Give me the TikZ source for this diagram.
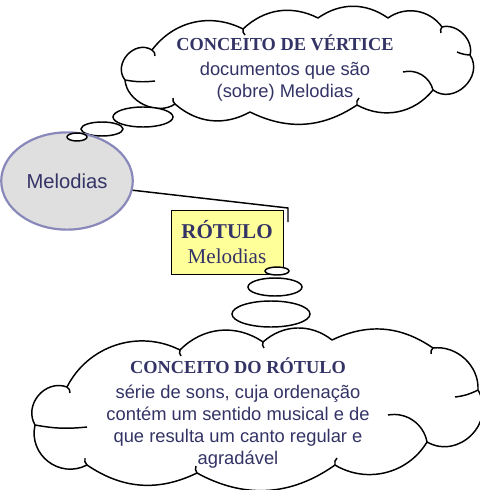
\documentclass[tikz,border=0pt]{standalone}
\usepackage{fontspec}
\setmainfont{Liberation Serif}
\setsansfont{Liberation Sans}
\usetikzlibrary{shapes.geometric}
\definecolor{txtblue}{RGB}{51,51,102}
\definecolor{rimblue}{RGB}{136,136,187}
\definecolor{notefill}{RGB}{255,255,153}

\begin{document}
\begin{tikzpicture}[x=0.545pt,y=-0.545pt,
	nuvem/.style={draw,thick,fill=white,line join=round},
	texto/.style={align=center,text=txtblue,font=\sffamily\fontsize{10}{12}\selectfont},
	bolha/.style={draw,thick,fill=white}]
				\useasboundingbox (0,0) rectangle (480,490);
				% nuvem do vertice
				\draw[nuvem] (125,80) to[bend left=80,looseness=1.3] (152,50) to[bend left=40] (243,29)
					to[bend left=35] (318,18) to[bend left=35] (388,18) to[bend left=45] (442,27)
					to[bend left=60] (470,55) to[bend left=80,looseness=1.3] (433,90) to[bend left=40] (357,105)
					to[bend left=30] (250,112) to[bend left=35] (175,104) to[bend left=60] (125,80) -- cycle;
				\draw[thick] (125,80) to[bend right=8] (155,81);
				\draw[thick] (403,72) to[bend left=45] (433,90);
				\draw[thick] (457,52) to[bend right=10] (470,55);
				\draw[thick] (152,50) to[bend left=30] (155,56);
				\draw[thick] (243,29) to[bend right=30] (245,35);
				\draw[thick] (442,27) to[bend right=30] (441,33);
				\draw[thick] (357,105) to[bend left=30] (359,98);
				\draw[thick] (175,104) to[bend left=30] (173,98);
				\node[texto] (vtexto) at (285,68) {{\rmfamily\bfseries CONCEITO DE VÉRTICE}\\[2pt]documentos que são\\(sobre) Melodias};
				\draw[bolha] (143,117) ellipse (30 and 10);
				\draw[bolha] (102,129) ellipse (21 and 7);
				% vertice
				\node[ellipse,draw=rimblue,line width=1.2pt,fill=gray!25,minimum width=61pt,minimum height=53pt,text=txtblue,font=\sffamily\fontsize{11}{13}\selectfont] (mel) at (67,181) {Melodias};
				\draw[bolha] (77,137) ellipse (10 and 4);
				% rotulo
				\node[draw,fill=notefill,minimum width=61pt,minimum height=35pt,align=center,text=txtblue,font=\fontsize{11.5}{14}\selectfont] (rot) at (227,242) {\textbf{RÓTULO}\\Melodias};
				\coordinate (dobra) at (288,208);
				\coordinate (ponta) at (288,222);
				\draw[thick] (mel.-8)--(dobra)--(ponta);
				% nuvem do rotulo
				\draw[bolha] (277,271) ellipse (12 and 4);
				\draw[bolha] (275,287) ellipse (27 and 9);
				\draw[bolha] (271,314) ellipse (39 and 13);
				\draw[nuvem] (35,425) to[bend left=70,looseness=1.2] (67,387) to[bend left=45] (180,350)
					to[bend left=40] (263,342) to[bend left=40] (332,340) to[bend left=30] (433,348)
					to[bend left=50] (478,390) to[bend left=75,looseness=1.3] (427,442) to[bend left=45] (335,465)
					to[bend left=32] (197,473) to[bend left=30] (87,465) to[bend left=65,looseness=1.2] (35,425) -- cycle;
				\draw[thick] (35,425) to[bend right=8] (87,427);
				\draw[thick] (388,415) to[bend left=45] (427,442);
				\draw[thick] (455,397) to[bend right=10] (478,390);
				\draw[thick] (67,387) to[bend left=30] (70,393);
				\draw[thick] (180,350) to[bend right=30] (181,356);
				\draw[thick] (263,342) to[bend right=30] (264,348);
				\draw[thick] (433,348) to[bend right=30] (431,354);
				\draw[thick] (335,465) to[bend left=30] (337,458);
				\draw[thick] (197,473) to[bend left=30] (196,466);
				\draw[thick] (87,465) to[bend left=30] (85,458);
				\node[texto] (rtexto) at (238,413) {{\rmfamily\bfseries CONCEITO DO RÓTULO}\\[2pt]série de sons, cuja ordenação\\contém um sentido musical e de\\que resulta um canto regular e\\agradável};
			\end{tikzpicture}
\end{document}
